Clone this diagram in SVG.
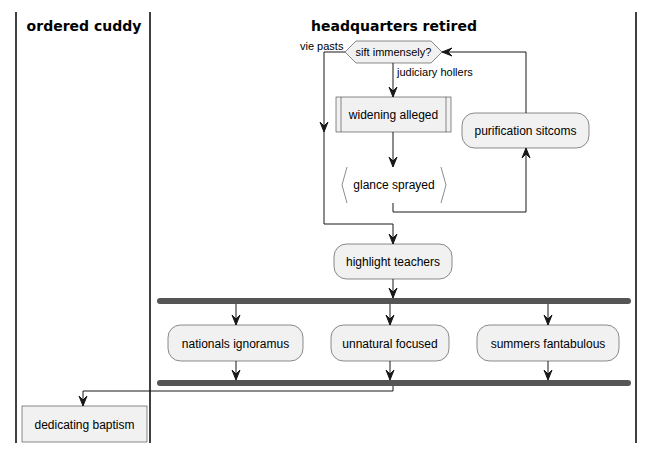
<svg xmlns="http://www.w3.org/2000/svg" width="653" height="452" viewBox="0 0 653 452">
<style>
text{font-family:"Liberation Sans",Arial,sans-serif;fill:#000}
.t{font-family:"DejaVu Sans",sans-serif;font-size:14px;font-weight:bold;text-anchor:middle}
.n{font-size:12px;text-anchor:middle}
.l{font-size:11px}
.box{fill:#F1F1F1;stroke:#181818;stroke-width:0.5}
.lane{stroke:#000;stroke-width:1.5}
.c{fill:none;stroke:#181818;stroke-width:1}
.bar{fill:#555555;stroke:none}
.ah{fill:#181818;stroke:#181818;stroke-width:1}
</style>
<rect width="653" height="452" fill="#fff"/>
<g id="lanes">
<line class="lane" x1="16" y1="12" x2="16" y2="443"/>
<line class="lane" x1="150" y1="12" x2="150" y2="443"/>
<line class="lane" x1="636" y1="12" x2="636" y2="443"/>
<text class="t" x="84" y="31">ordered cuddy</text>
<text class="t" x="394" y="31">headquarters retired</text>
</g>
<g id="connectors">
<path class="c" d="M393,63 V97"/>
<path class="ah" d="M389,87 L393,97 L397,87 L393,91 Z"/>
<text class="l" x="397" y="76">judiciary hollers</text>
<path class="c" d="M345,52 H324 V224 H393 V244"/>
<path class="ah" d="M320,122 L324,132 L328,122 L324,126 Z"/>
<path class="ah" d="M389,234 L393,244 L397,234 L393,238 Z"/>
<text class="l" x="300" y="50">vie pasts</text>
<path class="c" d="M393,132 V167"/>
<path class="ah" d="M389,157 L393,167 L397,157 L393,161 Z"/>
<path class="c" d="M393,203 V212 H526 V148"/>
<path class="ah" d="M522,158 L526,148 L530,158 L526,154 Z"/>
<path class="c" d="M526,113 V52 H442"/>
<path class="ah" d="M452,48 L442,52 L452,56 L448,52 Z"/>
<path class="c" d="M393,279 V298"/>
<path class="ah" d="M389,288 L393,298 L397,288 L393,292 Z"/>
<path class="c" d="M236,304 V325"/>
<path class="ah" d="M232,315 L236,325 L240,315 L236,319 Z"/>
<path class="c" d="M390,304 V325"/>
<path class="ah" d="M386,315 L390,325 L394,315 L390,319 Z"/>
<path class="c" d="M548,304 V325"/>
<path class="ah" d="M544,315 L548,325 L552,315 L548,319 Z"/>
<path class="c" d="M236,361 V380"/>
<path class="ah" d="M232,370 L236,380 L240,370 L236,374 Z"/>
<path class="c" d="M390,361 V380"/>
<path class="ah" d="M386,370 L390,380 L394,370 L390,374 Z"/>
<path class="c" d="M548,361 V380"/>
<path class="ah" d="M544,370 L548,380 L552,370 L548,374 Z"/>
<path class="c" d="M393,386 V391 H83 V406"/>
<path class="ah" d="M79,396 L83,406 L87,396 L83,400 Z"/>
</g>
<g id="sift">
<polygon class="box" points="345,52 356,41 431,41 442,52 431,63 356,63"/>
<text class="l" x="393.5" y="56" text-anchor="middle">sift immensely?</text>
</g>
<g id="widening">
<rect class="box" x="336" y="97" width="115" height="35"/>
<line class="box" x1="341" y1="97" x2="341" y2="132"/>
<line class="box" x1="446" y1="97" x2="446" y2="132"/>
<text class="n" x="393.5" y="118.5">widening alleged</text>
</g>
<g id="glance">
<polyline fill="none" stroke="#181818" stroke-width="0.5" points="347,167 342,185 347,203"/>
<polyline fill="none" stroke="#181818" stroke-width="0.5" points="441,167 446,185 441,203"/>
<text class="n" x="394" y="189">glance sprayed</text>
</g>
<g id="purification">
<rect class="box" x="462" y="113" width="127" height="35" rx="12.5"/>
<text class="n" x="525.5" y="135">purification sitcoms</text>
</g>
<g id="highlight">
<rect class="box" x="334" y="244" width="118" height="35" rx="12.5"/>
<text class="n" x="393" y="266">highlight teachers</text>
</g>
<g id="fork">
<rect class="bar" x="157" y="298" width="474" height="6" rx="3"/>
</g>
<g id="nationals">
<rect class="box" x="168" y="325" width="135" height="36" rx="12.5"/>
<text class="n" x="235.5" y="347.5">nationals ignoramus</text>
</g>
<g id="unnatural">
<rect class="box" x="331" y="325" width="118" height="36" rx="12.5"/>
<text class="n" x="390" y="347.5">unnatural focused</text>
</g>
<g id="summers">
<rect class="box" x="477" y="325" width="142" height="36" rx="12.5"/>
<text class="n" x="548" y="347.5">summers fantabulous</text>
</g>
<g id="join">
<rect class="bar" x="157" y="380" width="474" height="6" rx="3"/>
</g>
<g id="dedicating">
<rect class="box" x="22" y="406" width="125" height="36"/>
<text class="n" x="84.5" y="428.5">dedicating baptism</text>
</g>
</svg>
